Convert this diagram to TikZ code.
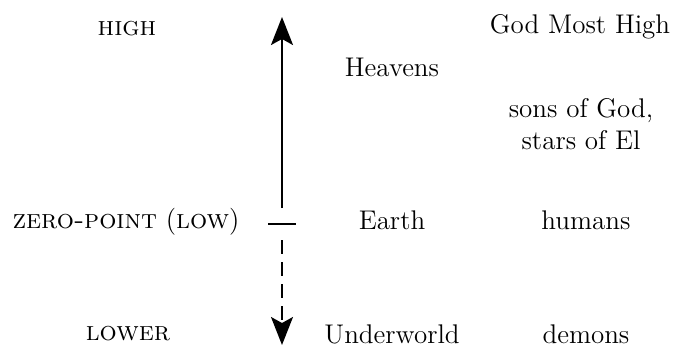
\documentclass[tikz,border=0pt]{standalone}
\usetikzlibrary{arrows.meta}
\begin{document}
\begin{tikzpicture}[x=0.5pt,y=-0.5pt,
  lbl/.style={font=\fontsize{13.5}{16}\selectfont, inner sep=0pt, align=center},
  axis/.style={line width=1pt},
  headtip/.style={-{Stealth[length=14pt,width=11pt,inset=3pt]}}]
\useasboundingbox (0,0) rectangle (680,348);
% left labels
\node[lbl] (high) at (127,29) {\textsc{high}};
\node[lbl] (zero) at (126,222) {\textsc{zero-point} (\textsc{low})};
\node[lbl] (lower) at (128,334) {\textsc{lower}};
% axis
\coordinate (top) at (282,17);
\coordinate (solidend) at (282,208);
\coordinate (tickl) at (268,224);
\coordinate (tickr) at (296,224);
\coordinate (dashstart) at (282,240);
\coordinate (bottom) at (282,345);
\draw[axis,headtip] (solidend) -- (top);
\draw[axis] (tickl) -- (tickr);
\draw[line width=0.8pt,dash pattern=on 7pt off 4pt,headtip] (dashstart) -- (bottom);
% middle column
\node[lbl] (heavens) at (392,67) {Heavens};
\node[lbl] (earth) at (392,220) {Earth};
\node[lbl] (under) at (392,334) {Underworld};
% right column
\node[lbl] (god) at (580,27) {God Most High};
\node[lbl] (sons) at (581,124) {sons of God,\\stars of El};
\node[lbl] (humans) at (586,220) {humans};
\node[lbl] (demons) at (586,334) {demons};
\end{tikzpicture}
\end{document}
